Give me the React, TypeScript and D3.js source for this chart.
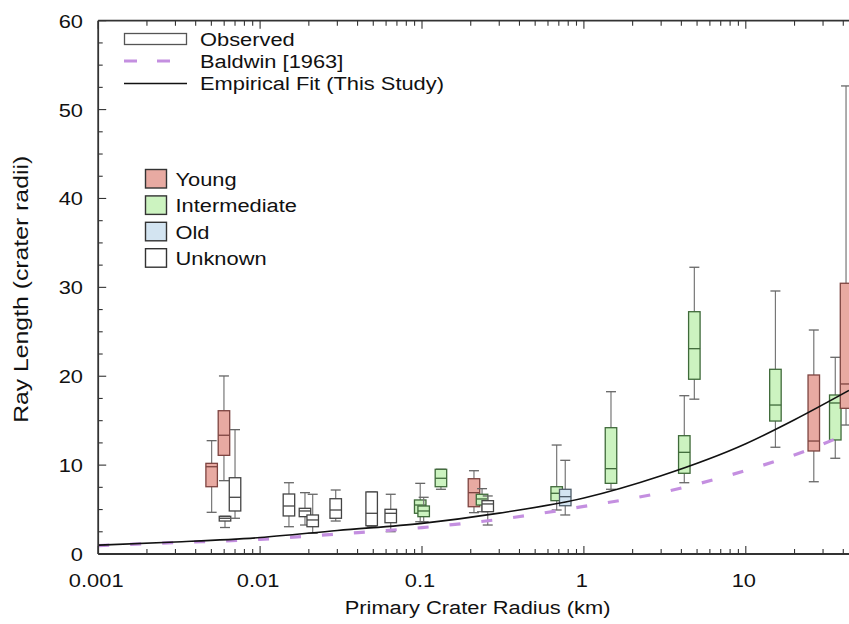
import React from "react";
import * as d3 from "d3";

// box plots, one per crater group
const boxRadius = [0.00502, 0.00598, 0.00607, 0.007, 0.01507, 0.01893, 0.02113, 0.02931, 0.04887, 0.0641, 0.0975, 0.1024, 0.1309, 0.2094, 0.2349, 0.2547, 0.679, 0.767, 1.47, 4.17, 4.81, 15.24, 26.3, 35.7, 41.6];
const boxAge = ["Young", "Young", "Unknown", "Unknown", "Unknown", "Unknown", "Unknown", "Unknown", "Unknown", "Unknown", "Intermediate", "Intermediate", "Intermediate", "Young", "Intermediate", "Unknown", "Intermediate", "Old", "Intermediate", "Intermediate", "Intermediate", "Intermediate", "Young", "Intermediate", "Young"];
const whiskerMax = [12.75, 20.03, 4.24, 13.99, 8.02, 6.9, 6.72, 7.2, 6.98, 6.72, 7.95, 6.38, 9.53, 9.37, 7.35, 6.53, 12.26, 10.54, 18.26, 17.81, 32.26, 29.59, 25.2, 22.13, 52.66];
const q3 = [10.2, 16.12, 4.24, 8.58, 6.75, 5.14, 4.39, 6.22, 6.98, 5.03, 6.08, 5.4, 9.53, 8.47, 6.72, 6.0, 7.57, 7.28, 14.21, 13.31, 27.26, 20.78, 20.14, 17.89, 30.46];
const median = [9.82, 13.36, 4.02, 6.38, 5.4, 4.84, 3.83, 4.95, 4.58, 4.58, 5.51, 4.84, 8.52, 6.9, 6.19, 5.63, 6.83, 6.45, 9.6, 11.44, 23.1, 16.76, 12.71, 16.99, 19.13];
const q1 = [7.57, 11.1, 3.71, 4.84, 4.28, 4.2, 3.07, 4.02, 3.18, 3.52, 4.58, 4.2, 7.57, 5.32, 5.51, 4.76, 6.0, 5.43, 7.95, 9.08, 19.66, 14.96, 11.59, 12.83, 16.39];
const whiskerMin = [4.69, 8.25, 2.98, 4.02, 3.07, 3.26, 2.33, 3.71, 3.07, 2.51, 3.63, 3.63, 7.28, 4.65, 4.76, 3.26, 4.95, 4.39, 7.28, 8.02, 17.42, 12.01, 8.13, 10.77, 14.51];

// curves
const fitRadius = [0.001, 0.003, 0.01, 0.03, 0.1, 0.3, 1, 3, 10, 20, 43.4];
const fitLength = [1.0, 1.35, 1.85, 2.65, 3.45, 4.6, 6.3, 8.8, 12.4, 15.1, 18.4];
const baldwinRadius = [0.001, 0.003, 0.01, 0.03, 0.1, 0.3, 1, 3, 10, 25, 43.4];
const baldwinLength = [0.95, 1.28, 1.65, 2.25, 2.97, 3.9, 5.35, 6.9, 9.4, 11.8, 13.6];

const xTickValues = [0.001, 0.01, 0.1, 1, 10];
const xTickLabels = ["0.001", "0.01", "0.1", "1", "10"];
const yTickValues = [0, 10, 20, 30, 40, 50, 60];

const ageNames = ["Young", "Intermediate", "Old", "Unknown"];
const ageFill: Record<string, string> = { Young: "#e8aaa2", Intermediate: "#ccf3c0", Old: "#d3e4f1", Unknown: "#ffffff" };
const ageStroke: Record<string, string> = { Young: "#7d4440", Intermediate: "#3f6a3a", Old: "#4e5c68", Unknown: "#444444" };

const FONT = "'Liberation Sans', Arial, Helvetica, sans-serif";
const SX = 1.15; // the figure's text is stretched sideways

const App = () => {
  const width = 849;
  const height = 624;
  const left = 98.2;
  const top = 20.7;
  const bottom = 554;
  const right = left + 5 * 161.9; // runs past the picture's edge

  const x = d3.scaleLog().domain([0.001, 100]).range([left, right]);
  const y = d3.scaleLinear().domain([0, 60]).range([bottom, top]);

  const line = d3.line<[number, number]>()
    .x((d) => x(d[0]))
    .y((d) => y(d[1]))
    .curve(d3.curveMonotoneX);

  const fitPath = line(fitRadius.map((r, i) => [r, fitLength[i]]));
  const baldwinPath = line(baldwinRadius.map((r, i) => [r, baldwinLength[i]]));

  const logTicks = x.ticks();
  const isMajor = (v: number) => Math.abs(Math.log10(v) - Math.round(Math.log10(v))) < 1e-9;
  const yMinor = d3.range(0, 60.01, 2.5);

  const bw = 11.5;
  const cw = 10;
  const axisColor = "#333";

  return (
    <div style={{ position: "absolute", left: 0, top: 0 }}>
      <svg width={width} height={height} style={{ display: "block", background: "#fff" }} fontFamily={FONT}>
        {/* boxes */}
        {boxRadius.map((r, i) => {
          const cx = x(r);
          const age = boxAge[i];
          return (
            <g key={i}>
              <line x1={cx} x2={cx} y1={y(whiskerMin[i])} y2={y(whiskerMax[i])} stroke="#777" strokeWidth={1.2} />
              <line x1={cx - cw / 2} x2={cx + cw / 2} y1={y(whiskerMin[i])} y2={y(whiskerMin[i])} stroke="#666" strokeWidth={1.3} />
              <line x1={cx - cw / 2} x2={cx + cw / 2} y1={y(whiskerMax[i])} y2={y(whiskerMax[i])} stroke="#666" strokeWidth={1.3} />
              <rect x={cx - bw / 2} y={y(q3[i])} width={bw} height={Math.max(0.5, y(q1[i]) - y(q3[i]))}
                fill={ageFill[age]} stroke={ageStroke[age]} strokeWidth={1.3} />
              <line x1={cx - bw / 2} x2={cx + bw / 2} y1={y(median[i])} y2={y(median[i])} stroke={ageStroke[age]} strokeWidth={1.3} />
            </g>
          );
        })}

        {/* curves */}
        <path d={baldwinPath || ""} fill="none" stroke="#c48fe0" strokeWidth={3.2} strokeDasharray="11 21" />
        <path d={fitPath || ""} fill="none" stroke="#111" strokeWidth={1.6} />

        {/* axes */}
        <line x1={left} x2={width} y1={bottom} y2={bottom} stroke={axisColor} strokeWidth={1.8} />
        <line x1={left} x2={width} y1={top} y2={top} stroke={axisColor} strokeWidth={1.8} />
        <line x1={left} x2={left} y1={top} y2={bottom} stroke={axisColor} strokeWidth={1.8} />
        {logTicks.map((v, i) => {
          const len = isMajor(v) ? 8 : 5;
          return (
            <g key={"xt" + i}>
              <line x1={x(v)} x2={x(v)} y1={bottom} y2={bottom - len} stroke={axisColor} strokeWidth={1.1} />
              <line x1={x(v)} x2={x(v)} y1={top} y2={top + len} stroke={axisColor} strokeWidth={1.1} />
            </g>
          );
        })}
        {yMinor.map((v, i) => (
          <line key={"yt" + i} x1={left} x2={left + (v % 10 === 0 ? 8 : 4.5)} y1={y(v)} y2={y(v)} stroke={axisColor} strokeWidth={1.1} />
        ))}
        {xTickValues.map((v, i) => (
          <text key={"xl" + i} transform={`translate(${x(v) - 2},${587}) scale(${SX},1)`} textAnchor="middle" fontSize={19} fill="#111">
            {xTickLabels[i]}
          </text>
        ))}
        {yTickValues.map((v) => (
          <text key={"yl" + v} transform={`translate(83,${y(v) + 7}) scale(${SX},1)`} textAnchor="end" fontSize={19} fill="#111">
            {v}
          </text>
        ))}
        <text transform={`translate(${(left + 849) / 2 + 4},614) scale(${SX},1)`} textAnchor="middle" fontSize={19} fill="#111">
          Primary Crater Radius (km)
        </text>
        <text transform={`translate(28,${(top + bottom) / 2 + 2}) rotate(-90) scale(1.18,1)`} textAnchor="middle" fontSize={21} fill="#111">
          Ray Length (crater radii)
        </text>

        {/* line legend */}
        <rect x={124.5} y={33.5} width={62} height={11} fill="#fff" stroke="#555" strokeWidth={1.3} />
        <line x1={124} x2={188} y1={61} y2={61} stroke="#c48fe0" strokeWidth={3.2} strokeDasharray="13 20" />
        <line x1={124} x2={187} y1={83.5} y2={83.5} stroke="#111" strokeWidth={1.6} />
        {["Observed", "Baldwin [1963]", "Empirical Fit (This Study)"].map((t, i) => (
          <text key={t} transform={`translate(200,${46 + i * 22}) scale(${SX},1)`} fontSize={19} fill="#111">{t}</text>
        ))}

        {/* age legend */}
        {ageNames.map((a, i) => (
          <g key={a}>
            <rect x={145.5} y={169.5 + i * 26.4} width={21} height={18.5} fill={ageFill[a]} stroke="#333" strokeWidth={1.4} />
            <text transform={`translate(175.5,${186 + i * 26.4}) scale(${SX},1)`} fontSize={19} fill="#111">{a}</text>
          </g>
        ))}
      </svg>
    </div>
  );
};

export default App;
